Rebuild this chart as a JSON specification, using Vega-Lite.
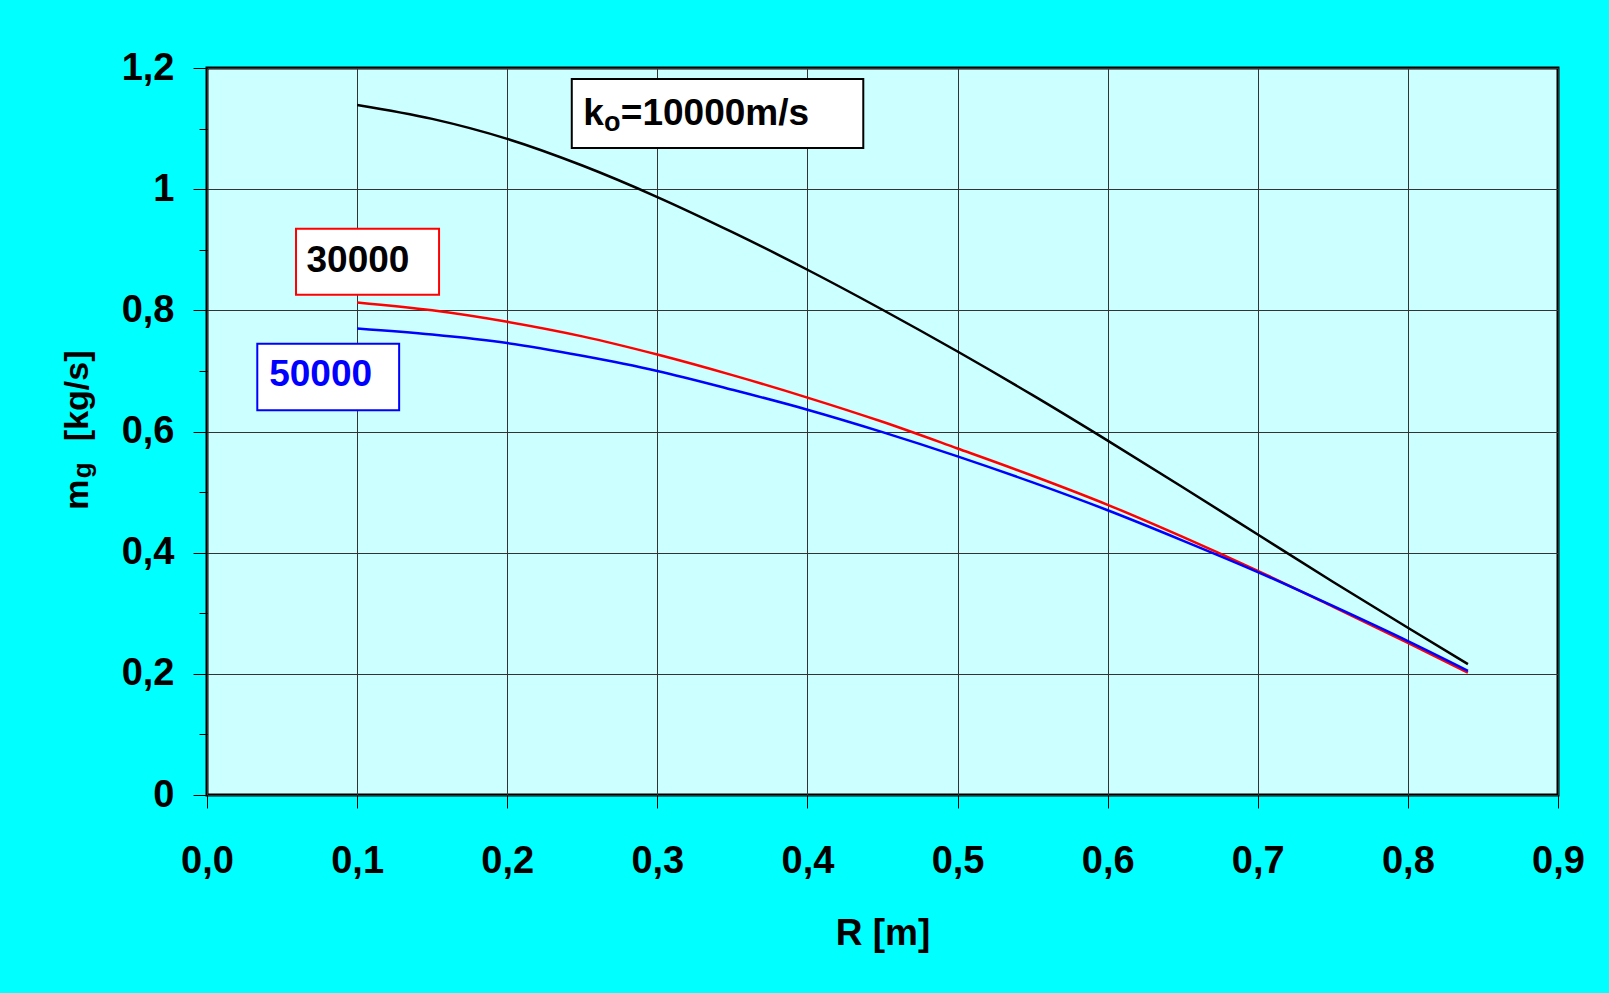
{
  "$schema": "https://vega.github.io/schema/vega-lite/v6.json",
  "width": 1351,
  "height": 727,
  "autosize": {"type": "none"},
  "padding": {"left": 207, "top": 68, "right": 51, "bottom": 198},
  "background": "#00FFFF",
  "config": {
    "view": {"fill": "#CCFFFF", "stroke": "#000000", "strokeWidth": 3},
    "font": "Liberation Sans"
  },
  "datasets": {
    "curves": [
      {"R": 0.1, "mg": 1.139, "k": "10000"},
      {"R": 0.15, "mg": 1.116, "k": "10000"},
      {"R": 0.2, "mg": 1.083, "k": "10000"},
      {"R": 0.25, "mg": 1.039, "k": "10000"},
      {"R": 0.3, "mg": 0.987, "k": "10000"},
      {"R": 0.35, "mg": 0.929, "k": "10000"},
      {"R": 0.4, "mg": 0.867, "k": "10000"},
      {"R": 0.45, "mg": 0.801, "k": "10000"},
      {"R": 0.5, "mg": 0.732, "k": "10000"},
      {"R": 0.55, "mg": 0.660, "k": "10000"},
      {"R": 0.6, "mg": 0.585, "k": "10000"},
      {"R": 0.65, "mg": 0.508, "k": "10000"},
      {"R": 0.7, "mg": 0.430, "k": "10000"},
      {"R": 0.75, "mg": 0.352, "k": "10000"},
      {"R": 0.8, "mg": 0.276, "k": "10000"},
      {"R": 0.84, "mg": 0.216, "k": "10000"},
      {"R": 0.1, "mg": 0.813, "k": "30000"},
      {"R": 0.15, "mg": 0.800, "k": "30000"},
      {"R": 0.2, "mg": 0.781, "k": "30000"},
      {"R": 0.25, "mg": 0.757, "k": "30000"},
      {"R": 0.3, "mg": 0.727, "k": "30000"},
      {"R": 0.35, "mg": 0.693, "k": "30000"},
      {"R": 0.4, "mg": 0.656, "k": "30000"},
      {"R": 0.45, "mg": 0.616, "k": "30000"},
      {"R": 0.5, "mg": 0.572, "k": "30000"},
      {"R": 0.55, "mg": 0.527, "k": "30000"},
      {"R": 0.6, "mg": 0.479, "k": "30000"},
      {"R": 0.65, "mg": 0.426, "k": "30000"},
      {"R": 0.7, "mg": 0.370, "k": "30000"},
      {"R": 0.75, "mg": 0.311, "k": "30000"},
      {"R": 0.8, "mg": 0.251, "k": "30000"},
      {"R": 0.84, "mg": 0.202, "k": "30000"},
      {"R": 0.1, "mg": 0.770, "k": "50000"},
      {"R": 0.15, "mg": 0.760, "k": "50000"},
      {"R": 0.2, "mg": 0.746, "k": "50000"},
      {"R": 0.25, "mg": 0.725, "k": "50000"},
      {"R": 0.3, "mg": 0.700, "k": "50000"},
      {"R": 0.35, "mg": 0.669, "k": "50000"},
      {"R": 0.4, "mg": 0.636, "k": "50000"},
      {"R": 0.45, "mg": 0.599, "k": "50000"},
      {"R": 0.5, "mg": 0.559, "k": "50000"},
      {"R": 0.55, "mg": 0.516, "k": "50000"},
      {"R": 0.6, "mg": 0.470, "k": "50000"},
      {"R": 0.65, "mg": 0.420, "k": "50000"},
      {"R": 0.7, "mg": 0.368, "k": "50000"},
      {"R": 0.75, "mg": 0.312, "k": "50000"},
      {"R": 0.8, "mg": 0.254, "k": "50000"},
      {"R": 0.84, "mg": 0.205, "k": "50000"}
    ],
    "boxes": [
      {"R": 0.243, "R2": 0.4372, "mg": 1.068, "mg2": 1.182, "border": "#000000"},
      {"R": 0.0593, "R2": 0.1546, "mg": 0.8258, "mg2": 0.9348, "border": "#FF0000"},
      {"R": 0.0335, "R2": 0.128, "mg": 0.635, "mg2": 0.745, "border": "#0000FF"}
    ],
    "labels": [
      {"R": 0.2507, "mg": 1.1065, "text": "k", "size": 37, "color": "#000000"},
      {"R": 0.2645, "mg": 1.0954, "text": "o", "size": 27, "color": "#000000"},
      {"R": 0.2757, "mg": 1.1065, "text": "=10000m/s", "size": 37, "color": "#000000"},
      {"R": 0.0663, "mg": 0.8627, "text": "30000", "size": 37, "color": "#000000"},
      {"R": 0.0414, "mg": 0.6745, "text": "50000", "size": 37, "color": "#0000FF"}
    ],
    "ytitle": [
      {"R": -0.0791, "mg": 0.471, "text": "m", "size": 34},
      {"R": -0.0773, "mg": 0.523, "text": "g", "size": 26},
      {"R": -0.0791, "mg": 0.584, "text": "[kg/s]", "size": 34}
    ]
  },
  "encoding": {
    "x": {
      "field": "R", "type": "quantitative",
      "scale": {"domain": [0, 0.9], "nice": false, "zero": false},
      "axis": {
        "values": [0, 0.1, 0.2, 0.3, 0.4, 0.5, 0.6, 0.7, 0.8, 0.9],
        "labelExpr": "replace(format(datum.value, '.1f'), '.', ',')",
        "labelFont": "Liberation Sans", "labelFontSize": 38, "labelFontWeight": "bold",
        "labelColor": "#000000", "labelPadding": 34, "labelFlush": false, "labelOverlap": false,
        "tickSize": 13, "tickColor": "#000000", "tickWidth": 1,
        "domain": false,
        "grid": true, "gridColor": "#333333", "gridWidth": 1, "gridOpacity": 1,
        "title": "R [m]", "titleFont": "Liberation Sans", "titleFontSize": 37,
        "titleFontWeight": "bold", "titleColor": "#000000",
        "titleBaseline": "alphabetic", "titleY": 149
      }
    },
    "y": {
      "field": "mg", "type": "quantitative",
      "scale": {"domain": [0, 1.2], "nice": false, "zero": false},
      "axis": {
        "values": [0, 0.1, 0.2, 0.3, 0.4, 0.5, 0.6, 0.7, 0.8, 0.9, 1.0, 1.1, 1.2],
        "labelExpr": "round(datum.value * 10) % 2 == 1 ? '' : replace(format(datum.value, '~g'), '.', ',')",
        "labelFont": "Liberation Sans", "labelFontSize": 38, "labelFontWeight": "bold",
        "labelColor": "#000000", "labelPadding": 19, "labelFlush": false, "labelOverlap": false,
        "tickSize": {"condition": {"test": "round(datum.value * 10) % 2 == 1", "value": 8}, "value": 14},
        "tickColor": "#000000", "tickWidth": 1,
        "domain": false,
        "grid": true, "gridColor": "#333333", "gridWidth": 1,
        "gridOpacity": {"condition": {"test": "round(datum.value * 10) % 2 == 1", "value": 0}, "value": 1},
        "title": null
      }
    }
  },
  "layer": [
    {
      "data": {"name": "curves"},
      "mark": {"type": "line", "strokeWidth": 2.5, "interpolate": "monotone"},
      "encoding": {
        "color": {
          "field": "k", "type": "nominal",
          "scale": {"domain": ["10000", "30000", "50000"], "range": ["#000000", "#FF0000", "#0000FF"]},
          "legend": null
        }
      }
    },
    {
      "data": {"name": "boxes"},
      "mark": {"type": "rect", "fill": "#FFFFFF", "strokeWidth": 2},
      "encoding": {
        "x2": {"field": "R2"},
        "y2": {"field": "mg2"},
        "stroke": {"field": "border", "type": "nominal", "scale": null}
      }
    },
    {
      "data": {"name": "labels"},
      "mark": {"type": "text", "font": "Liberation Sans", "fontWeight": "bold", "align": "left", "baseline": "alphabetic"},
      "encoding": {
        "text": {"field": "text"},
        "size": {"field": "size", "type": "quantitative", "scale": null},
        "color": {"field": "color", "type": "nominal", "scale": null}
      }
    },
    {
      "data": {"name": "ytitle"},
      "mark": {"type": "text", "font": "Liberation Sans", "fontWeight": "bold", "align": "left", "baseline": "alphabetic", "angle": 270, "color": "#000000"},
      "encoding": {
        "text": {"field": "text"},
        "size": {"field": "size", "type": "quantitative", "scale": null}
      }
    }
  ]
}
